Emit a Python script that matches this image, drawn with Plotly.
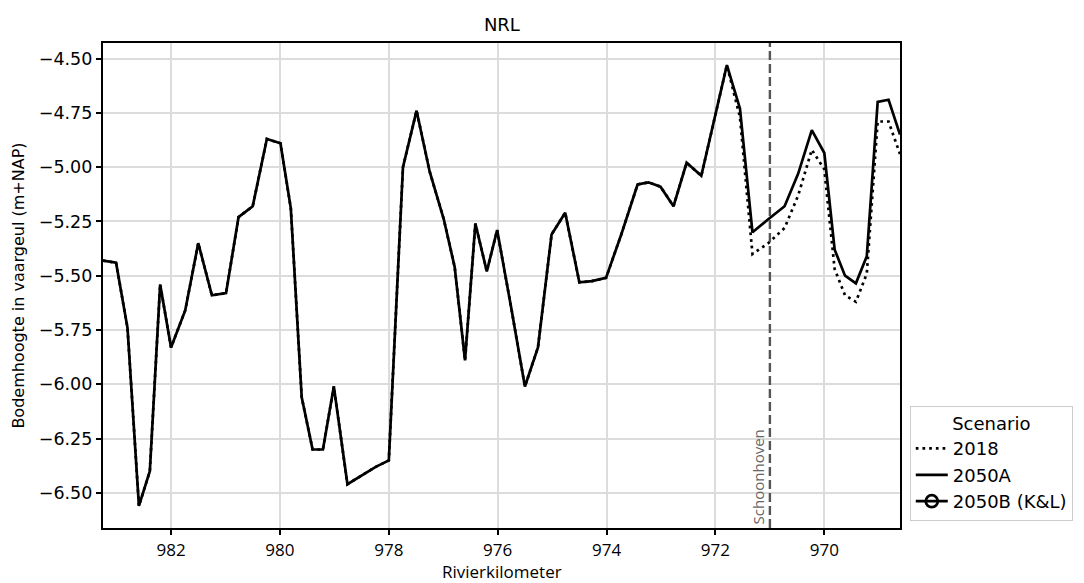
import plotly.graph_objects as go

# River kilometre positions (decreasing downstream)
km = [
    983.25, 983.01, 982.80, 982.59, 982.39, 982.20, 982.00, 981.74, 981.50, 981.25,
    980.99, 980.76, 980.50, 980.24, 979.99, 979.80, 979.60, 979.40, 979.21, 979.01,
    978.76, 978.49, 978.24, 978.00, 977.74, 977.49, 977.25, 976.99, 976.79, 976.60,
    976.41, 976.20, 976.01, 975.75, 975.50, 975.26, 975.01, 974.76, 974.50, 974.27,
    974.01, 973.73, 973.43, 973.23, 973.01, 972.77, 972.53, 972.26, 972.02, 971.79,
    971.55, 971.32, 971.03, 970.73, 970.48, 970.23, 970.00, 969.81, 969.62, 969.42,
    969.22, 969.02, 968.82, 968.61,
]

# Bed level in the fairway, scenario 2050A (m+NAP)
bed_2050a = [
    -5.43, -5.44, -5.74, -6.56, -6.40, -5.54, -5.83, -5.66, -5.35, -5.59,
    -5.58, -5.23, -5.18, -4.87, -4.89, -5.19, -6.06, -6.30, -6.30, -6.01,
    -6.46, -6.42, -6.38, -6.35, -5.00, -4.74, -5.02, -5.24, -5.46, -5.89,
    -5.26, -5.48, -5.29, -5.65, -6.01, -5.83, -5.31, -5.21, -5.53, -5.525,
    -5.51, -5.31, -5.08, -5.07, -5.09, -5.18, -4.98, -5.04, -4.78, -4.53,
    -4.73, -5.30, -5.24, -5.18, -5.03, -4.83, -4.935, -5.38, -5.50, -5.535,
    -5.41, -4.70, -4.69, -4.85,
]

# Bed level in the fairway, reference year 2018 (m+NAP)
bed_2018 = [
    -5.43, -5.44, -5.74, -6.56, -6.40, -5.54, -5.83, -5.66, -5.35, -5.59,
    -5.58, -5.23, -5.18, -4.87, -4.89, -5.19, -6.06, -6.30, -6.30, -6.01,
    -6.46, -6.42, -6.38, -6.35, -5.00, -4.74, -5.02, -5.24, -5.46, -5.89,
    -5.26, -5.48, -5.29, -5.65, -6.01, -5.83, -5.31, -5.21, -5.53, -5.525,
    -5.51, -5.31, -5.08, -5.07, -5.09, -5.18, -4.98, -5.04, -4.78, -4.53,
    -4.77, -5.40, -5.35, -5.28, -5.13, -4.92, -5.01, -5.47, -5.59, -5.62,
    -5.49, -4.79, -4.79, -4.94,
]

y_ticks = [-4.50, -4.75, -5.00, -5.25, -5.50, -5.75, -6.00, -6.25, -6.50]
x_ticks = [982, 980, 978, 976, 974, 972, 970]

schoonhoven_km = 971.0

all_y = bed_2018 + bed_2050a
y_lo, y_hi = min(all_y), max(all_y)
pad = 0.05 * (y_hi - y_lo)

fig = go.Figure()

fig.add_trace(go.Scatter(
    x=km, y=bed_2018, mode="lines", name="2018",
    line=dict(color="black", width=2.7, dash="2.7px,4px"),
))
fig.add_trace(go.Scatter(
    x=km, y=bed_2050a, mode="lines", name="2050A",
    line=dict(color="black", width=2.7),
))
# 2050B (K&L) has no values on this stretch; shown in the legend only
fig.add_trace(go.Scatter(
    x=[None], y=[None], mode="lines+markers", name="2050B (K&L)",
    line=dict(color="black", width=2.7),
    marker=dict(symbol="circle-open", size=12, color="black", line=dict(width=2.7)),
))

fig.add_shape(
    type="line", xref="x", yref="paper",
    x0=schoonhoven_km, x1=schoonhoven_km, y0=0, y1=1,
    line=dict(color="#555555", width=2.4, dash="9px,4px"),
)
fig.add_annotation(
    x=schoonhoven_km, y=0, xref="x", yref="paper",
    text="Schoonhoven", textangle=-90, showarrow=False,
    xanchor="right", yanchor="bottom", xshift=0, yshift=2,
    font=dict(family="Open Sans", size=15, color="#666666"),
)

# Axis titles
fig.add_annotation(
    x=0.5, y=-0.0907, xref="paper", yref="paper",
    text="Rivierkilometer", showarrow=False,
    xanchor="center", yanchor="middle",
    font=dict(family="Open Sans", size=17, color="black"),
)
fig.add_annotation(
    x=-0.1065, y=0.5, xref="paper", yref="paper",
    text="Bodemhoogte in vaargeul (m+NAP)", textangle=-90, showarrow=False,
    xanchor="center", yanchor="middle",
    font=dict(family="DejaVu Sans", size=16, color="black"),
)

fig.update_layout(
    width=1084, height=583,
    margin=dict(l=103, r=183, t=43, b=55),
    paper_bgcolor="white", plot_bgcolor="white",
    title=dict(text="NRL", x=0.463, xanchor="center", y=0.958, yanchor="middle",
               font=dict(family="DejaVu Sans", size=18, color="black")),
    font=dict(family="DejaVu Sans", color="black"),
    legend=dict(
        x=1.011, y=0.252, xanchor="left", yanchor="top",
        bordercolor="#cccccc", borderwidth=1, bgcolor="white",
        font=dict(family="DejaVu Sans", size=18),
        title=dict(text="Scenario", side="top center", font=dict(family="DejaVu Sans", size=18)),
        tracegroupgap=0, itemwidth=32,
    ),
)

fig.update_xaxes(
    range=[max(km), min(km)],
    tickmode="array", tickvals=x_ticks, ticktext=[str(v) for v in x_ticks],
    showgrid=True, gridcolor="#dcdcdc", gridwidth=2,
    showline=True, linecolor="black", linewidth=2.2, mirror=True,
    ticks="outside", ticklen=5, tickwidth=1.5, tickcolor="black",
    tickfont=dict(family="Open Sans", size=17),
    zeroline=False, automargin=False,
)
fig.update_yaxes(
    range=[y_lo - pad, y_hi + pad],
    tickmode="array", tickvals=y_ticks, ticktext=[f"\u2212{abs(v):.2f}" for v in y_ticks],
    showgrid=True, gridcolor="#dcdcdc", gridwidth=2,
    showline=True, linecolor="black", linewidth=2.2, mirror=True,
    ticks="outside", ticklen=5, tickwidth=1.5, tickcolor="black",
    tickfont=dict(family="DejaVu Sans", size=17.5),
    zeroline=False, automargin=False,
)

fig.write_html("out.html")
